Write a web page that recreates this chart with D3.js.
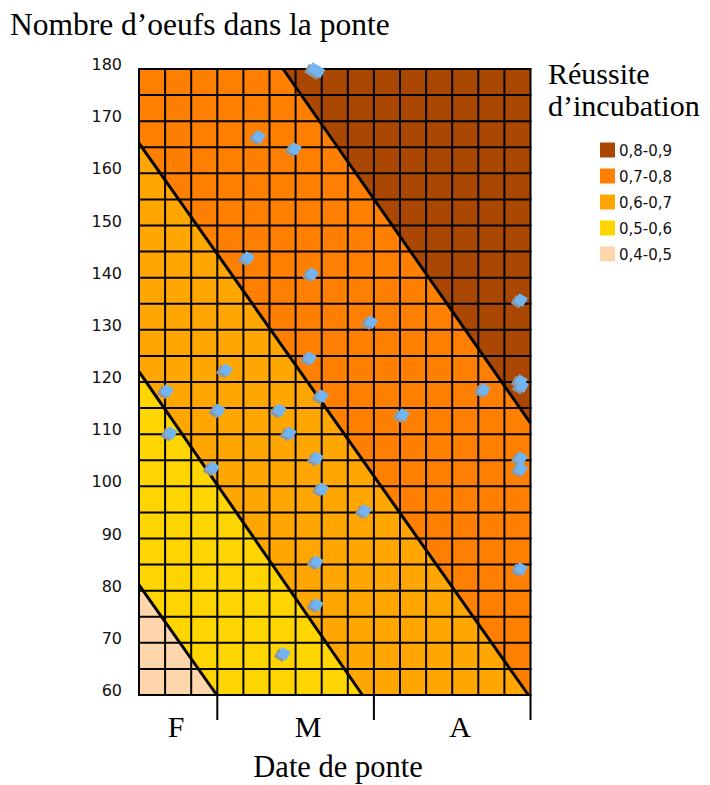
<!DOCTYPE html>
<html>
<head>
<meta charset="utf-8">
<script src="https://cdn.jsdelivr.net/npm/d3@7"></script>
<style>
  body { margin: 0; background: #fff; }
  svg { display: block; }
</style>
</head>
<body>
<div id="chart"></div>
<script>
// plages de réussite (du plus faible au plus fort)
const classes = ["0,4-0,5", "0,5-0,6", "0,6-0,7", "0,7-0,8", "0,8-0,9"];
const couleurs = ["#ffd5ab", "#ffd500", "#ffa600", "#ff7f00", "#a94703"];

// limites entre les plages (jour, nombre d'oeufs)
const limites = [
  [[0, 81.1], [14.9, 60]],
  [[0, 122.0], [42.8, 60]],
  [[0, 165.8], [74.6, 60]],
  [[27.6, 180], [75, 112.1]]
];

// pontes observées : jour depuis le début (mi-février), nombre d'oeufs
const jours = [33.4, 34.2, 22.8, 29.7, 20.7, 33.0, 44.3, 73.0, 32.6, 16.5,
  5.2, 34.9, 65.9, 73.0, 73.2, 15.1, 26.8, 50.4, 5.9, 28.7,
  33.9, 73.0, 73.0, 14.0, 34.9, 43.1, 33.9, 73.0, 33.9, 27.6];
const oeufs = [180, 179.5, 167.0, 164.7, 143.8, 140.7, 131.5, 135.7, 124.6, 122.3,
  118.3, 117.3, 118.5, 120.2, 119.2, 114.6, 114.6, 113.7, 110.2, 110.2,
  105.4, 105.4, 103.3, 103.5, 99.5, 95.3, 85.5, 84.2, 77.3, 67.9];

const mois = ["F", "M", "A"];
const moisPos = [7.1, 32.4, 61.5];
const moisFin = [15, 45, 75];
const yTicks = [60, 70, 80, 90, 100, 110, 120, 130, 140, 150, 160, 170, 180];

const width = 710, height = 785;
const x0 = 0, x1 = 75, y0 = 60, y1 = 180;

const svg = d3.select("#chart").append("svg")
  .attr("width", width)
  .attr("height", height);

const xScale = d3.scaleLinear().domain([x0, x1]).range([139, 530.5]);
const yScale = d3.scaleLinear().domain([y0, y1]).range([695, 69]);

svg.append("clipPath").attr("id", "clip")
  .append("rect")
  .attr("x", xScale(x0)).attr("y", yScale(y1))
  .attr("width", xScale(x1) - xScale(x0))
  .attr("height", yScale(y0) - yScale(y1));

const plot = svg.append("g").attr("clip-path", "url(#clip)");

// fond = plage la plus basse
plot.append("rect")
  .attr("x", xScale(x0)).attr("y", yScale(y1))
  .attr("width", xScale(x1) - xScale(x0))
  .attr("height", yScale(y0) - yScale(y1))
  .attr("fill", couleurs[0]);

const line = d3.line().x(d => xScale(d[0])).y(d => yScale(d[1]));

// zones au-dessus de chaque limite
limites.forEach((pts, i) => {
  const poly = pts.concat([[x1, y0], [x1, y1], [x0, y1]]);
  plot.append("path")
    .attr("d", line(poly) + "Z")
    .attr("fill", couleurs[i + 1]);
});

// quadrillage
const grille = svg.append("g").attr("stroke", "#000").attr("stroke-width", 2);
d3.range(x0, x1 + 1, 5).forEach(d => {
  grille.append("line")
    .attr("x1", xScale(d)).attr("x2", xScale(d))
    .attr("y1", yScale(y1)).attr("y2", yScale(y0));
});
d3.range(y0, y1 + 1, 5).forEach(d => {
  grille.append("line")
    .attr("x1", xScale(x0) - 1).attr("x2", xScale(x1) + 1)
    .attr("y1", yScale(d)).attr("y2", yScale(d));
});

// limites
limites.forEach(pts => {
  svg.append("path")
    .attr("d", line(pts))
    .attr("fill", "none")
    .attr("stroke", "#000")
    .attr("stroke-width", 3);
});

// points
const pts = jours.map((d, i) => [d, oeufs[i]]);
const sym = d3.symbol().type(d3.symbolSquare).size(64);
svg.append("g").selectAll("path.ombre")
  .data(pts).enter().append("path")
  .attr("d", sym)
  .attr("transform", d => `translate(${xScale(d[0]) - 2.5},${yScale(d[1]) + 1.5}) rotate(30)`)
  .attr("fill", "#8d98a3")
  .attr("stroke", "#8d98a3")
  .attr("stroke-width", 2)
  .attr("stroke-linejoin", "round");
svg.append("g").selectAll("path.pt")
  .data(pts).enter().append("path")
  .attr("d", sym)
  .attr("transform", d => `translate(${xScale(d[0]) + 1},${yScale(d[1])}) rotate(30)`)
  .attr("fill", "#72b5f2")
  .attr("stroke", "#72b5f2")
  .attr("stroke-width", 2)
  .attr("stroke-linejoin", "round");

// axe y
svg.append("g").selectAll("text")
  .data(yTicks).enter().append("text")
  .attr("x", 122)
  .attr("y", d => yScale(d) + 1)
  .attr("text-anchor", "end")
  .attr("font-family", "DejaVu Sans, Verdana, sans-serif")
  .attr("font-size", 16)
  .attr("fill", "#111")
  .text(d => d);

// axe x : graduations de fin de mois et lettres
svg.append("g").selectAll("line")
  .data(moisFin).enter().append("line")
  .attr("x1", d => xScale(d)).attr("x2", d => xScale(d))
  .attr("y1", yScale(y0)).attr("y2", 720)
  .attr("stroke", "#000").attr("stroke-width", 2);

svg.append("g").selectAll("text")
  .data(mois).enter().append("text")
  .attr("x", (d, i) => xScale(moisPos[i]))
  .attr("y", 737)
  .attr("text-anchor", "middle")
  .attr("font-family", "Liberation Serif, Times New Roman, serif")
  .attr("font-size", 30)
  .text(d => d);

// titres
const serif = "Liberation Serif, Times New Roman, serif";
svg.append("text").attr("x", 10).attr("y", 35)
  .attr("font-family", serif).attr("font-size", 31.5)
  .text("Nombre d’oeufs dans la ponte");
svg.append("text").attr("x", 338).attr("y", 777)
  .attr("text-anchor", "middle")
  .attr("font-family", serif).attr("font-size", 30.5)
  .text("Date de ponte");
svg.append("text").attr("x", 548).attr("y", 84)
  .attr("font-family", serif).attr("font-size", 30)
  .text("Réussite");
svg.append("text").attr("x", 548).attr("y", 116)
  .attr("font-family", serif).attr("font-size", 30)
  .text("d’incubation");

// légende
const leg = svg.append("g");
const ordre = d3.range(classes.length).reverse();
ordre.forEach((k, i) => {
  const yc = 150 + i * 26;
  leg.append("rect")
    .attr("x", 600).attr("y", yc - 7.5)
    .attr("width", 15).attr("height", 15)
    .attr("fill", couleurs[k]);
  leg.append("text")
    .attr("x", 619).attr("y", yc + 5.5)
    .attr("font-family", "DejaVu Sans, Verdana, sans-serif")
    .attr("font-size", 15)
    .attr("fill", "#111")
    .text(classes[k]);
});
</script>
</body>
</html>
